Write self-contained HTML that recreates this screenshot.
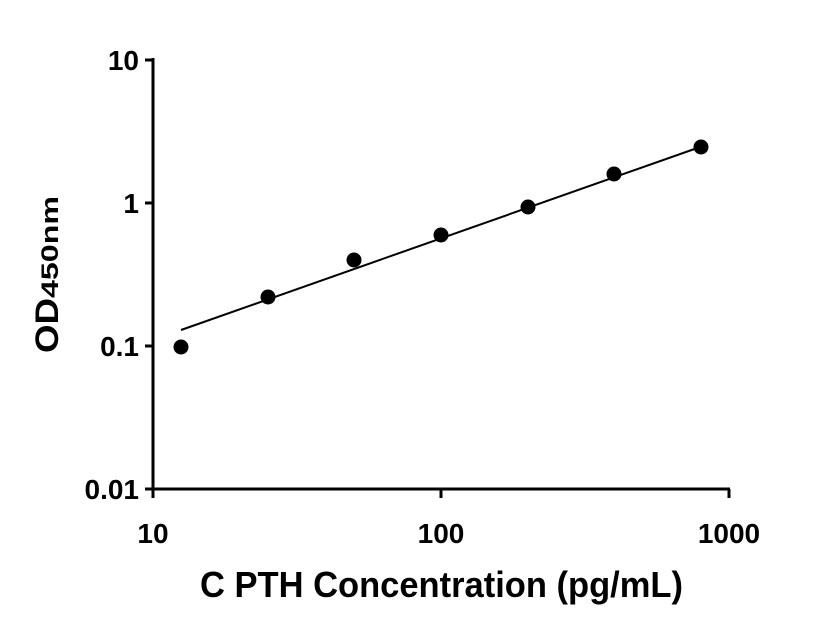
<!DOCTYPE html>
<html><head><style>body{margin:0;background:#fff}svg{display:block}</style></head><body>
<svg width="816" height="640" viewBox="0 0 816 640" xmlns="http://www.w3.org/2000/svg" font-family="'Liberation Sans',sans-serif" font-weight="bold">
<g stroke="#000" stroke-width="3" fill="none">
<line x1="153" y1="58" x2="153" y2="491"/>
<line x1="151.5" y1="489" x2="730" y2="489"/>
<line x1="145" y1="60" x2="153" y2="60"/>
<line x1="145" y1="203" x2="153" y2="203"/>
<line x1="145" y1="346" x2="153" y2="346"/>
<line x1="145" y1="489" x2="153" y2="489"/>
<line x1="153" y1="489" x2="153" y2="498"/>
<line x1="441" y1="489" x2="441" y2="498"/>
<line x1="729" y1="489" x2="729" y2="498"/>
</g>
<g font-size="28" text-anchor="end">
<text x="139" y="70">10</text>
<text x="139" y="213">1</text>
<text x="139" y="356">0.1</text>
<text x="139" y="499">0.01</text>
</g>
<g font-size="28" text-anchor="middle">
<text x="153" y="543">10</text>
<text x="441" y="543">100</text>
<text x="729" y="543">1000</text>
</g>
<text x="200" y="597" font-size="36" textLength="483" lengthAdjust="spacingAndGlyphs">C PTH Concentration (pg/mL)</text>
<text transform="translate(58,353) rotate(-90)"><tspan font-size="32" textLength="55" lengthAdjust="spacingAndGlyphs">OD</tspan><tspan font-size="24" textLength="102" lengthAdjust="spacingAndGlyphs">450nm</tspan></text>
<line x1="181" y1="330" x2="703" y2="146" stroke="#000" stroke-width="2"/>
<g fill="#000">
<circle cx="181" cy="347" r="7.5"/>
<circle cx="268" cy="297" r="7.5"/>
<circle cx="354" cy="260" r="7.5"/>
<circle cx="441" cy="235" r="7.5"/>
<circle cx="528" cy="207" r="7.5"/>
<circle cx="614" cy="174" r="7.5"/>
<circle cx="701" cy="147" r="7.5"/>
</g>
</svg>
</body></html>
